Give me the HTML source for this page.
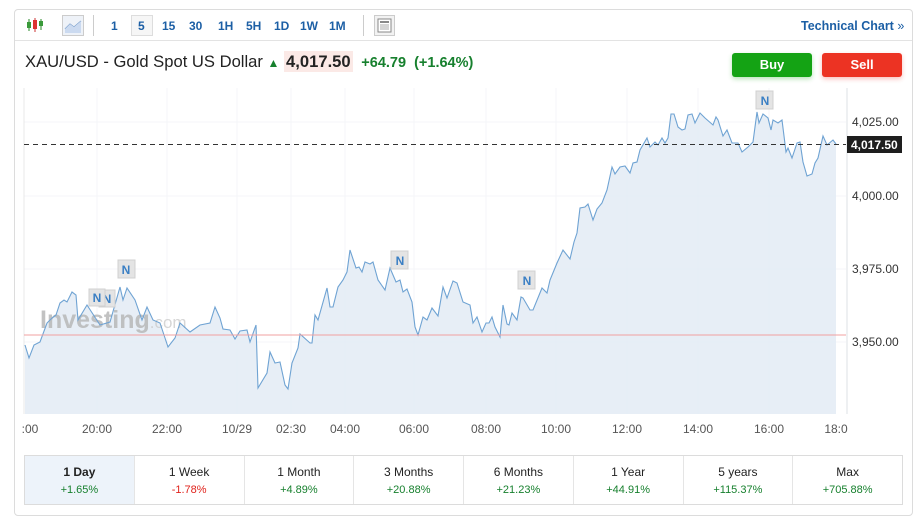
<!DOCTYPE html>
<html><head><meta charset="utf-8"><style>
*{box-sizing:border-box;margin:0;padding:0}
body{width:921px;height:527px;background:#fff;font-family:"Liberation Sans",Arial,sans-serif;position:relative;overflow:hidden}
.card{position:absolute;left:14px;top:9px;width:899px;height:507px;border:1px solid #dcdcdc;border-radius:4px}
.tb{position:absolute;left:0;top:0;width:897px;height:31px;border-bottom:1px solid #e3e3e3}
.t{position:absolute;top:9px;font-size:12px;font-weight:bold;color:#1c5fa5}
.title{position:absolute;left:25px;top:52px;font-size:16.6px;color:#222;white-space:nowrap}
.btn{position:absolute;top:53px;width:80px;height:24px;border-radius:3px;color:#fff;font-weight:bold;font-size:13px;text-align:center;line-height:24px}
.tabs{position:absolute;left:24px;top:455px;width:879px;height:50px;border:1px solid #dcdcdc;display:flex}
.tabs div{flex:1;border-right:1px solid #e5e5e5;text-align:center;font-size:12px;color:#222;padding-top:9px}
.tabs div:last-child{border-right:none}
.tabs span{display:block;font-size:11px;margin-top:5px}
.g{color:#17802e}.r{color:#e0231c}
</style></head><body>
<div class="card">
<div class="tb">
<svg style="position:absolute;left:11px;top:7px" width="18" height="16"><line x1="3" y1="2" x2="3" y2="14" stroke="#2a8a2a"/><rect x="1" y="5" width="4" height="6" fill="#3a9a3a"/><line x1="9" y1="1" x2="9" y2="15" stroke="#c33"/><rect x="7" y="3" width="4" height="9" fill="#d33"/><line x1="15" y1="2" x2="15" y2="13" stroke="#2a8a2a"/><rect x="13" y="4" width="4" height="5" fill="#3a9a3a"/></svg>
<div style="position:absolute;left:47px;top:5px;width:22px;height:21px;border:1px solid #ccc;background:#eef2f8"><svg width="20" height="19"><polyline points="2,13 7,8 11,11 18,5" fill="none" stroke="#6d95c6"/><polygon points="2,13 7,8 11,11 18,5 18,17 2,17" fill="#cbdaf0"/></svg></div>
<div style="position:absolute;left:78px;top:5px;width:1px;height:21px;background:#ccc"></div>
<span class="t" style="left:96px">1</span>
<div style="position:absolute;left:116px;top:5px;width:22px;height:21px;border:1px solid #ddd;background:#f6f6f6"></div>
<span class="t" style="left:123px">5</span>
<span class="t" style="left:147px">15</span><span class="t" style="left:174px">30</span><span class="t" style="left:203px">1H</span><span class="t" style="left:231px">5H</span><span class="t" style="left:259px">1D</span><span class="t" style="left:285px">1W</span><span class="t" style="left:314px">1M</span>
<div style="position:absolute;left:348px;top:5px;width:1px;height:21px;background:#ccc"></div>
<div style="position:absolute;left:359px;top:5px;width:21px;height:21px;border:1px solid #ccc;background:#f2f2f2"><svg width="19" height="19"><rect x="3" y="3" width="13" height="13" fill="#fff" stroke="#888"/><rect x="5" y="5" width="9" height="2" fill="#888"/><line x1="5" y1="9" x2="14" y2="9" stroke="#aaa"/><line x1="5" y1="11" x2="14" y2="11" stroke="#aaa"/><line x1="5" y1="13" x2="14" y2="13" stroke="#aaa"/></svg></div>
<span class="t" style="left:786px;font-size:12.5px">Technical Chart <span style="font-weight:normal">»</span></span>
</div>
</div>
<div class="title">XAU/USD - Gold Spot US Dollar <span style="color:#17802e;font-size:12px">&#9650;</span> <span style="background:#fbe9e6;font-weight:bold;padding:1px 2px">4,017.50</span> <span style="color:#17802e;font-weight:bold;font-size:14.5px">&nbsp;+64.79 &nbsp;(+1.64%)</span></div>
<div class="btn" style="left:732px;background:#14a314;box-shadow:0 2px 5px rgba(20,163,20,.3)">Buy</div>
<div class="btn" style="left:822px;background:#ec3323;box-shadow:0 2px 5px rgba(236,51,35,.3)">Sell</div>
<svg style="position:absolute;left:0;top:0" width="921" height="527">
<g stroke="#f4f5f8" stroke-width="1">
<line x1="24" y1="122" x2="846" y2="122"/><line x1="24" y1="196" x2="846" y2="196"/><line x1="24" y1="269" x2="846" y2="269"/><line x1="24" y1="342" x2="846" y2="342"/>
<line x1="97" y1="88" x2="97" y2="414"/><line x1="167" y1="88" x2="167" y2="414"/><line x1="237" y1="88" x2="237" y2="414"/><line x1="291" y1="88" x2="291" y2="414"/><line x1="345" y1="88" x2="345" y2="414"/><line x1="414" y1="88" x2="414" y2="414"/><line x1="486" y1="88" x2="486" y2="414"/><line x1="556" y1="88" x2="556" y2="414"/><line x1="627" y1="88" x2="627" y2="414"/><line x1="698" y1="88" x2="698" y2="414"/><line x1="769" y1="88" x2="769" y2="414"/>
</g>
<line x1="24" y1="88" x2="24" y2="414" stroke="#e8e8e8"/>
<line x1="847" y1="88" x2="847" y2="414" stroke="#dde0e6"/>
<polygon fill="#e4ecf5" fill-opacity=".9" points="25,414 25,345 29,358 34,345 40,342 47,323 52,318 56,315 60,303 64,300 67,302 72,292 76,295 78,320 87,305 100,325 110,322 120,287 123,300 127,288 135,300 142,320 147,307 153,320 160,323 168,347 175,338 180,323 190,332 200,325 210,323 215,307 220,318 223,329 230,330 235,339 240,331 247,330 250,342 256,325 258,388 267,373 270,352 275,363 280,362 285,385 288,389 292,363 298,348 300,334 310,343 312,343 315,315 318,320 327,288 330,307 333,307 338,287 343,280 347,272 350,250 356,268 359,267 362,272 365,262 370,264 373,262 378,280 385,290 390,268 396,282 400,280 403,292 407,289 412,302 415,327 418,335 423,317 427,320 432,308 438,316 443,287 447,298 453,281 457,283 463,302 470,305 473,323 477,317 482,332 486,323 489,323 492,317 495,327 500,337 503,305 507,324 509,325 512,313 517,320 521,297 523,298 530,310 533,310 542,288 547,293 550,280 557,263 563,250 570,259 574,242 577,233 580,208 585,207 588,204 593,220 597,209 602,203 607,190 612,167 615,174 620,167 625,166 630,173 633,163 637,162 640,150 647,138 650,147 655,142 658,145 662,138 665,143 668,138 671,114 674,114 678,127 682,130 685,129 688,115 692,114 695,123 700,113 705,118 713,125 716,117 718,120 723,136 727,130 732,143 735,143 738,143 742,152 748,147 753,142 757,112 759,123 763,114 768,118 771,130 773,120 778,123 782,120 786,152 788,148 792,158 797,143 800,142 803,162 807,176 812,174 815,163 818,158 823,136 827,145 833,140 836,144 836,414"/>
<text x="40" y="328" font-size="25" font-weight="bold" fill="#b8b8b8" opacity=".85" font-family="Liberation Sans,sans-serif">Investing<tspan font-weight="normal" font-size="17" fill="#cfcfcf">.com</tspan></text>
<polyline fill="none" stroke="#6fa3d3" stroke-width="1.1" points="25,345 29,358 34,345 40,342 47,323 52,318 56,315 60,303 64,300 67,302 72,292 76,295 78,320 87,305 100,325 110,322 120,287 123,300 127,288 135,300 142,320 147,307 153,320 160,323 168,347 175,338 180,323 190,332 200,325 210,323 215,307 220,318 223,329 230,330 235,339 240,331 247,330 250,342 256,325 258,388 267,373 270,352 275,363 280,362 285,385 288,389 292,363 298,348 300,334 310,343 312,343 315,315 318,320 327,288 330,307 333,307 338,287 343,280 347,272 350,250 356,268 359,267 362,272 365,262 370,264 373,262 378,280 385,290 390,268 396,282 400,280 403,292 407,289 412,302 415,327 418,335 423,317 427,320 432,308 438,316 443,287 447,298 453,281 457,283 463,302 470,305 473,323 477,317 482,332 486,323 489,323 492,317 495,327 500,337 503,305 507,324 509,325 512,313 517,320 521,297 523,298 530,310 533,310 542,288 547,293 550,280 557,263 563,250 570,259 574,242 577,233 580,208 585,207 588,204 593,220 597,209 602,203 607,190 612,167 615,174 620,167 625,166 630,173 633,163 637,162 640,150 647,138 650,147 655,142 658,145 662,138 665,143 668,138 671,114 674,114 678,127 682,130 685,129 688,115 692,114 695,123 700,113 705,118 713,125 716,117 718,120 723,136 727,130 732,143 735,143 738,143 742,152 748,147 753,142 757,112 759,123 763,114 768,118 771,130 773,120 778,123 782,120 786,152 788,148 792,158 797,143 800,142 803,162 807,176 812,174 815,163 818,158 823,136 827,145 833,140 836,144"/>
<line x1="24" y1="335" x2="846" y2="335" stroke="#f0a0a0" stroke-width="1"/>
<line x1="24" y1="144.5" x2="846" y2="144.5" stroke="#333" stroke-dasharray="5,4"/>
<g font-size="12" fill="#333" font-family="Liberation Sans,sans-serif">
<text x="852" y="126">4,025.00</text><text x="852" y="200">4,000.00</text><text x="852" y="273">3,975.00</text><text x="852" y="346">3,950.00</text>
</g>
<rect x="847" y="136" width="55" height="17" fill="#1e1e1e"/>
<text x="851" y="149" font-size="12" font-weight="bold" fill="#fff" font-family="Liberation Sans,sans-serif">4,017.50</text>
<g font-size="12" fill="#555" text-anchor="middle" font-family="Liberation Sans,sans-serif">
<text x="30" y="433">:00</text><text x="97" y="433">20:00</text><text x="167" y="433">22:00</text><text x="237" y="433">10/29</text><text x="291" y="433">02:30</text><text x="345" y="433">04:00</text><text x="414" y="433">06:00</text><text x="486" y="433">08:00</text><text x="556" y="433">10:00</text><text x="627" y="433">12:00</text><text x="698" y="433">14:00</text><text x="769" y="433">16:00</text><text x="836" y="433">18:0</text>
</g>
<g font-size="12" font-weight="bold" fill="#3a7fc4" text-anchor="middle" font-family="Liberation Sans,sans-serif">
<rect x="99" y="290" width="16" height="17" fill="#e4e4e4" stroke="#d0d0d0"/><text x="107" y="303">N</text>
<rect x="89" y="289" width="16" height="17" fill="#e4e4e4" stroke="#d0d0d0"/><text x="97" y="302">N</text>
<rect x="118" y="260" width="17" height="18" fill="#e4e4e4" stroke="#d0d0d0"/><text x="126" y="274">N</text>
<rect x="391" y="251" width="17" height="18" fill="#e4e4e4" stroke="#d0d0d0"/><text x="400" y="265">N</text>
<rect x="518" y="271" width="17" height="18" fill="#e4e4e4" stroke="#d0d0d0"/><text x="527" y="285">N</text>
<rect x="756" y="91" width="17" height="18" fill="#e4e4e4" stroke="#d0d0d0"/><text x="765" y="105">N</text>
</g>
</svg>
<div class="tabs">
<div style="background:#edf3fa;font-weight:bold">1 Day<span class="g" style="font-weight:normal">+1.65%</span></div>
<div>1 Week<span class="r">-1.78%</span></div>
<div>1 Month<span class="g">+4.89%</span></div>
<div>3 Months<span class="g">+20.88%</span></div>
<div>6 Months<span class="g">+21.23%</span></div>
<div>1 Year<span class="g">+44.91%</span></div>
<div>5 years<span class="g">+115.37%</span></div>
<div>Max<span class="g">+705.88%</span></div>
</div>
</body></html>
